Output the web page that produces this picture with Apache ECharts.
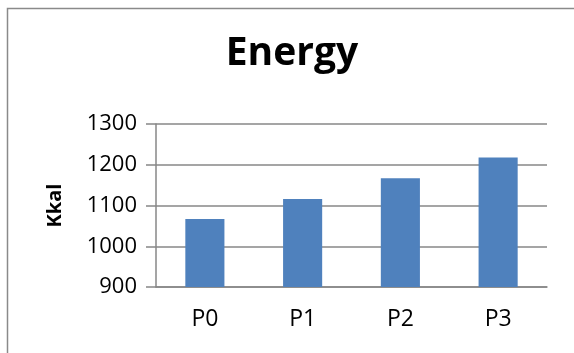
<!DOCTYPE html>
<html>
<head>
<meta charset="utf-8">
<script src="https://cdn.jsdelivr.net/npm/echarts@6/dist/echarts.min.js"></script>
<style>
  html, body { margin: 0; padding: 0; background: #fff; }
  #chart { width: 574px; height: 353px; }
</style>
</head>
<body>
<div id="chart"></div>
<script>
const titleText = 'Energy';
const yAxisName = 'Kkal';
const categories = ['P0', 'P1', 'P2', 'P3'];
const energyValues = [1067, 1116, 1167, 1218];
const yMin = 900;
const yMax = 1300;
const yStep = 100;

const chart = echarts.init(document.getElementById('chart'), null, { renderer: 'canvas' });
const FONT = '"Open Sans", sans-serif';
const GRIDC = '#878787';

chart.setOption({
  animation: false,
  backgroundColor: '#ffffff',
  graphic: [{
    type: 'rect',
    shape: { x: 7.5, y: 8.5, width: 700, height: 500 },
    style: { fill: 'none', stroke: '#8a8a8a', lineWidth: 1.5 },
    silent: true
  }],
  title: {
    text: titleText,
    left: 292,
    textAlign: 'center',
    top: 34,
    padding: 0,
    textStyle: { fontFamily: FONT, fontWeight: 'bold', fontSize: 39, color: '#000' }
  },
  grid: { left: 156, right: 27, top: 124, bottom: 66, containLabel: false },
  xAxis: {
    type: 'category',
    data: categories,
    axisLine: { show: true, lineStyle: { color: GRIDC, width: 1.5 } },
    axisTick: { show: false },
    axisLabel: { fontFamily: FONT, fontSize: 23, color: '#000', margin: 21 },
    splitLine: { show: false }
  },
  yAxis: {
    type: 'value',
    min: yMin,
    max: yMax,
    interval: yStep,
    name: yAxisName,
    nameLocation: 'middle',
    nameRotate: 90,
    nameGap: 91,
    nameTextStyle: { fontFamily: FONT, fontWeight: 'bold', fontSize: 20, color: '#000' },
    axisLine: { show: true, lineStyle: { color: GRIDC, width: 1.5 } },
    axisTick: { show: true, inside: false, length: 10, lineStyle: { color: GRIDC, width: 1.5 } },
    axisLabel: { fontFamily: FONT, fontSize: 22, color: '#000', margin: 19, formatter: v => String(v) },
    splitLine: { show: true, lineStyle: { color: GRIDC, width: 1.5 } }
  },
  series: [{
    type: 'bar',
    data: energyValues,
    barWidth: '40%',
    itemStyle: { color: '#4F81BD' }
  }]
});
</script>
</body>
</html>
